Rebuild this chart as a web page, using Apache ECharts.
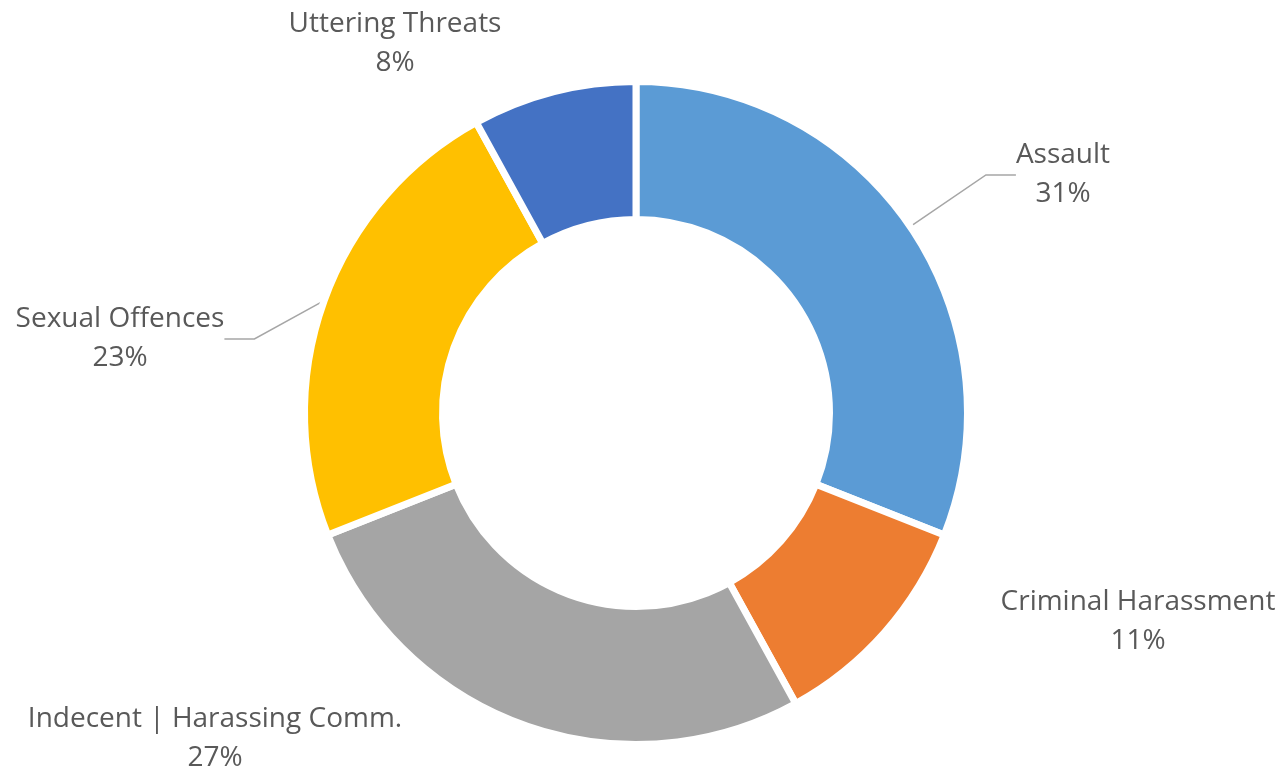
<!DOCTYPE html>
<html>
<head>
<meta charset="utf-8">
<script src="https://cdn.jsdelivr.net/npm/echarts@6/dist/echarts.min.js"></script>
<style>
html,body{margin:0;padding:0;background:#fff;}
#chart{width:1285px;height:772px;}
</style>
</head>
<body>
<div id="chart"></div>
<script>
var categories = ['Assault', 'Criminal Harassment', 'Indecent | Harassing Comm.', 'Sexual Offences', 'Uttering Threats'];
var values = [31, 11, 27, 23, 8];
var colors = ['#5B9BD5', '#ED7D31', '#A5A5A5', '#FFC000', '#4472C4'];
var showLine = [true, false, false, true, false];
// label anchor positions (layout only)
var labelPos = [[1063, 175], [1138, 622], [215, 739], [120, 339], [395, 44]];

var chart = echarts.init(document.getElementById('chart'));
var data = categories.map(function (c, i) {
  return {
    name: c,
    value: values[i],
    itemStyle: { color: colors[i] },
    labelLine: { show: showLine[i] }
  };
});
chart.setOption({
  backgroundColor: '#fff',
  animation: false,
  series: [{
    type: 'pie',
    center: [636, 413],
    radius: [193.5, 331.5],
    startAngle: 90,
    clockwise: true,
    data: data,
    itemStyle: { borderColor: '#fff', borderWidth: 7 },
    label: {
      show: true,
      position: 'outside',
      formatter: '{b}\n{c}%',
      fontFamily: 'Open Sans',
      fontSize: 28,
      lineHeight: 39,
      color: '#595959',
      align: 'center'
    },
    labelLine: {
      show: true,
      lineStyle: { color: '#A6A6A6', width: 1.5 }
    },
    labelLayout: function (p) {
      var pos = labelPos[p.dataIndex];
      return { x: pos[0], y: pos[1], align: 'center', verticalAlign: 'middle' };
    }
  }]
});
</script>
</body>
</html>
